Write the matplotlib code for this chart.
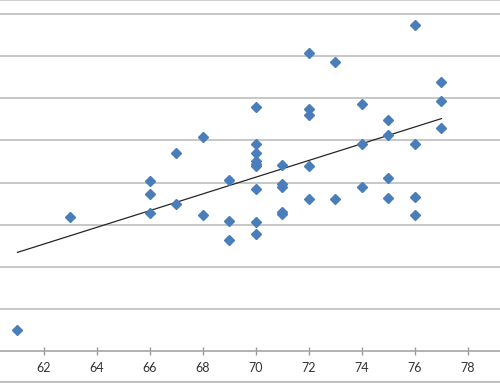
# Scatter with linear trendline (cropped Excel-style chart)

import numpy as np
import matplotlib.pyplot as plt
from matplotlib.lines import Line2D

# Data
heights = [61, 63,
           66, 66, 66,
           67, 67,
           68, 68,
           69, 69, 69,
           70, 70, 70, 70, 70, 70, 70, 70, 70,
           71, 71, 71, 71, 71,
           72, 72, 72, 72, 72,
           73, 73,
           74, 74, 74,
           75, 75, 75, 75,
           76, 76, 76, 76,
           77, 77, 77]
values = [12.5, 79.6,
          100.9, 93.2, 82.1,
          117.6, 87.3,
          127.3, 80.9,
          101.5, 77.4, 65.7,
          144.7, 122.9, 117.3, 113.1, 111.3, 109.9, 96.2, 76.4, 69.5,
          110.3, 99.2, 97.2, 82.7, 81.2,
          176.8, 143.5, 140.1, 109.7, 90.3,
          171.6, 90.3,
          146.7, 122.9, 97.2,
          137.2, 128.3, 102.5, 90.7,
          193.8, 122.7, 91.3, 80.6,
          159.7, 148.7, 132.6]
x_ticks = [62, 64, 66, 68, 70, 72, 74, 76, 78]
y_grid = [0, 25, 50, 75, 100, 125, 150, 175, 200]


def main():
    x = np.array(heights)
    y = np.array(values)

    fig = plt.figure(figsize=(5, 3.83), dpi=100)
    ax = fig.add_axes([0, 32 / 383, 1, 351 / 383])

    # gridlines
    for g in y_grid[1:]:
        ax.axhline(g, color="#bdbdbd", linewidth=1.2, zorder=0)

    # points
    ax.plot(x, y, linestyle="none", marker="D", markersize=5.2,
            color="#4a7ebb", markeredgecolor="#4a7ebb", zorder=3)

    # linear trendline
    slope, icpt = np.polyfit(x, y, 1)
    xs = np.array([x.min(), x.max()])
    ax.plot(xs, slope * xs + icpt, color="#262626", linewidth=0.9, zorder=2)

    ax.set_xlim(60.34, 79.21)
    ax.set_ylim(0, 208.4)
    ax.set_xticks(x_ticks)
    ax.set_yticks([])
    ax.tick_params(axis="x", direction="inout", length=6, width=1,
                   color="#9a9a9a", labelsize=9, labelcolor="#333333", pad=5)
    for lab in ax.get_xticklabels():
        lab.set_family(["Lato", "DejaVu Sans"])

    for side in ["left", "right"]:
        ax.spines[side].set_visible(False)
    ax.spines["bottom"].set_color("#a6a6a6")
    ax.spines["bottom"].set_linewidth(1.2)
    ax.spines["top"].set_color("#c8c8c8")
    ax.spines["top"].set_linewidth(1.2)

    # outer border line at the bottom of the crop
    fig.add_artist(Line2D([0, 1], [1.5 / 383, 1.5 / 383], color="#b5b5b5",
                          linewidth=1.2, transform=fig.transFigure))

    fig.savefig("out.png", dpi=100)


if __name__ == "__main__":
    main()
